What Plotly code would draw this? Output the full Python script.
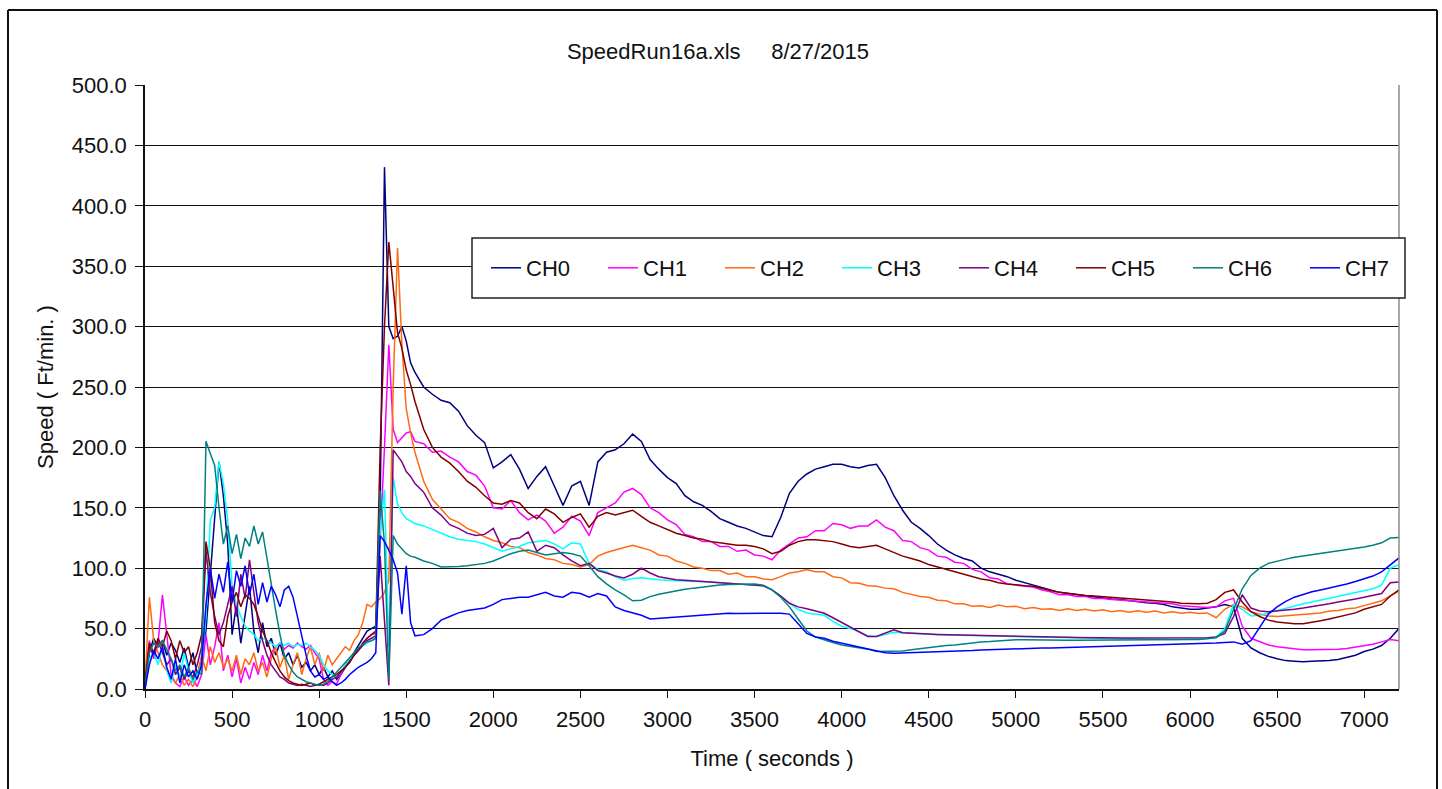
import plotly.graph_objects as go

# sample times (s): 25 s spacing through the start-up burst, 50 s after
time_s = list(range(0, 1550, 25)) + list(range(1550, 7201, 50))

channel_names = ["CH0", "CH1", "CH2", "CH3", "CH4", "CH5", "CH6", "CH7"]

ch0 = [0, 30, 42, 35, 40, 28, 38, 32, 22, 34,
       18, 30, 12, 25, 48, 95, 140, 188, 160, 120,
       45, 70, 38, 62, 85, 48, 30, 55, 35, 42,
       28, 38, 25, 30, 20, 28, 18, 22, 15, 20,
       12, 18, 10, 15, 8, 12, 18, 25, 30, 36,
       42, 48, 50, 52, 150, 432, 300, 290, 292, 300,
       288, 270,
       262, 250, 244, 239, 237, 230, 218, 210, 204, 183,
       188, 194, 182, 166, 176, 184, 168, 152, 168, 172,
       152, 188, 196, 198, 203, 211, 205, 190, 182, 175,
       170, 160, 155, 152, 147, 141, 138, 135, 133, 130,
       127, 126, 142, 162, 172, 178, 182, 184, 186, 186,
       184, 183, 185, 186, 175, 160, 148, 138, 133, 127,
       120, 115, 111, 108, 106, 100, 97, 95, 93, 90,
       88, 86, 84, 82, 80, 79, 78, 77, 76, 75,
       74.5, 74, 73, 72, 71.5, 71, 70, 68, 67, 66,
       66, 67, 68, 70, 68, 42, 34, 30, 27, 25,
       23.5, 23, 22.5, 23, 23, 23.5, 24.5, 26, 28, 31,
       33, 36, 42, 50]

ch1 = [10, 40, 25, 38, 78, 45, 12, 5, 2, 10,
       3, 8, 2, 12, 45, 20, 35, 55, 15, 28,
       10, 25, 5, 18, 8, 22, 12, 28, 15, 30,
       35, 38, 33, 36, 34, 38, 35, 33, 36, 30,
       25, 8, 3, 6, 4, 12, 20, 25, 28, 32,
       38, 42, 45, 46, 120, 200, 285, 215, 204, 208,
       212, 213,
       205, 203, 196, 197, 192, 188, 180, 177, 168, 150,
       149, 156, 146, 140, 144, 139, 129, 134, 143, 139,
       127, 146, 150, 154, 163, 166, 161, 150, 146, 140,
       136, 128, 126, 122, 122, 118, 118, 114, 115, 111,
       110, 107, 115, 120, 125, 126, 131, 131, 137, 136,
       133, 135, 135, 140, 134, 131, 123, 122, 117, 115,
       110, 109, 105, 104, 99, 97, 92, 91, 87, 86,
       85, 84.5, 82, 80.5, 78, 78, 76.5, 76.5, 75, 75,
       74, 73.5, 72.5, 72.5, 71.5, 71.5, 70.5, 70.5, 69, 68.5,
       68, 67.5, 68, 73, 75, 52, 42, 39, 36.5, 35,
       34, 33, 32.5, 32.5, 32.5, 32.5, 33, 33.5, 34.5, 35.5,
       37, 39, 41, 40]

ch2 = [5, 76, 40, 30, 20, 15, 10, 5, 12, 3,
       8, 2, 10, 28, 15, 35, 22, 30, 18, 25,
       15, 28, 12, 25, 20, 30, 15, 22, 10, 25,
       35, 18, 28, 8, 20, 30, 12, 25, 35, 20,
       30, 15, 28, 20, 25, 30, 35, 32, 40, 45,
       55, 70, 68, 72, 75, 80, 90, 250, 365, 285,
       232, 212,
       196, 172, 157, 149, 141, 138, 133, 130, 126, 123,
       121, 118, 117, 113, 111, 108, 107, 104, 103, 101,
       103, 110, 113, 115, 117, 119, 117, 115, 111, 110,
       106, 104, 101, 100, 98, 98, 95, 96, 93, 93,
       91, 90.5, 93, 96, 97, 99, 97, 97, 93, 92,
       88, 87.5, 85.5, 85, 83.5, 83, 80, 78.5, 76.5, 76,
       73.5, 73, 70.5, 70.5, 68.5, 69, 67.5, 69.5, 68, 68.5,
       66.5, 67.5, 66, 66.5, 65, 66.5, 65, 66, 64.5, 65.5,
       64, 65, 63.5, 64.8, 63.5, 64.5, 63, 64, 62.8, 63.5,
       62.5, 63, 59, 66, 70, 68, 64, 62, 60.5, 60,
       60.5, 61, 61.5, 62.5, 63, 64.5, 65, 66.5, 67, 69,
       71, 73, 77, 81]

ch3 = [2, 25, 30, 20, 35, 15, 5, 20, 10, 30,
       15, 5, 12, 20, 60, 140, 150, 188, 170, 140,
       85, 70, 60, 52, 48, 45, 40, 42, 40, 38,
       35, 38, 36, 38, 35, 37, 36, 38, 35, 32,
       28, 20, 15, 12, 10, 14, 20, 25, 28, 32,
       36, 38, 40, 42, 130, 165, 35, 175, 153, 146,
       141, 139,
       137, 135, 132, 129, 126, 124, 123, 122, 120, 117,
       114, 116, 118, 121, 122, 123, 120, 116, 121, 120,
       104, 99, 97, 93, 90, 91.5, 92, 91, 90.5, 90,
       89.5, 89, 89, 89, 88.5, 88, 87.5, 87, 86.5, 86,
       85.5, 82, 77, 71, 66, 63, 62, 61, 56, 52,
       50, 47.5, 44, 43.5, 45, 47, 46.5, 46, 45.5, 45,
       45, 44.8, 44.8, 44.5, 44.2, 44, 44, 44, 43.8, 43.5,
       43.2, 43, 43, 42.8, 42.5, 42.5, 42.3, 42.2, 42, 42,
       41.8, 41.6, 41.5, 41.4, 41.3, 41.2, 41.1, 41, 41, 41,
       41, 41.5, 43, 50, 70, 66, 60.5, 61, 63, 65,
       67, 69, 70.5, 72, 73.5, 75, 76.5, 78, 79.5, 81,
       83, 86, 100, 103]

ch4 = [5, 35, 28, 40, 30, 20, 25, 12, 18, 8,
       15, 10, 20, 35, 115, 80, 60, 45, 55, 70,
       85, 60, 95, 75, 107, 80, 55, 40, 28, 20,
       15, 10, 8, 5, 4, 3, 4, 3, 2, 3,
       4, 3, 5, 8, 10, 14, 18, 22, 28, 32,
       36, 40, 42, 44, 110, 60, 3, 198, 193, 188,
       180, 176,
       170, 163, 150, 144, 136, 133, 129, 127, 128, 133,
       117, 124, 125, 130, 114, 119, 117, 111, 106, 102,
       104, 98, 96, 93.5, 92, 95, 100, 96, 93, 91.5,
       90.5, 90, 89.5, 89, 89, 88.5, 88, 87.5, 87, 86.2,
       85.5, 82, 77, 71, 68, 66.5, 64.5, 62.7, 59, 55,
       51, 47, 43.5, 43.4, 46, 49, 46.5, 46, 45.7, 45.5,
       45.2, 45, 44.8, 44.6, 44.4, 44.2, 44, 44.2, 44, 43.8,
       43.5, 43.3, 43.2, 43, 43, 42.8, 42.7, 42.5, 42.4, 42.3,
       42.3, 42.2, 42.2, 42.2, 42.2, 42.2, 42.2, 42.2, 42.2, 42.2,
       42.2, 42.5, 43, 46, 60, 78, 67, 64.5, 64, 64.5,
       65, 66, 67, 68, 69, 70.5, 72, 73, 74.5, 76,
       77.5, 79, 88, 88.5]

ch5 = [5, 38, 30, 42, 35, 48, 40, 25, 40, 30,
       35, 20, 30, 45, 122, 100, 55, 40, 35, 60,
       72, 80, 68, 78, 75, 70, 60, 48, 40, 30,
       22, 15, 10, 7, 5, 4, 3, 4, 5, 3,
       4, 6, 8, 10, 12, 15, 18, 22, 28, 32,
       38, 42, 45, 48, 198, 300, 370, 330, 295, 282,
       264, 252,
       238, 215, 200, 192, 187, 180, 172, 167, 160, 154,
       153, 156, 154, 146, 141, 149, 145, 138, 142, 145,
       134, 143, 146, 144, 146, 148, 143, 138, 135, 132,
       129, 127, 125, 124, 122, 121, 120, 119, 119, 118,
       116, 112, 114, 119, 122, 123.5, 123.5, 123, 122, 120,
       118, 117, 118, 119, 116, 113, 110, 108, 106, 103,
       101, 99, 97, 95, 93, 91, 90, 88, 87, 86,
       85.5, 85, 83, 81.5, 80, 79, 78, 77.5, 77, 76.5,
       76, 75, 74.5, 74, 73.5, 73, 72.5, 72, 71, 70.5,
       70.5, 71, 74, 80, 82, 72, 64, 60, 57, 55.5,
       54.5, 54, 54, 55, 56.5, 58, 59.5, 61, 63, 66,
       68, 70, 77, 82]

ch6 = [3, 30, 38, 35, 40, 32, 25, 15, 20, 10,
       18, 8, 15, 12, 205, 195, 185, 150, 120, 135,
       112, 128, 108, 125, 118, 135, 120, 130, 108, 85,
       65, 45, 28, 20, 14, 10, 8, 6, 5, 4,
       3, 4, 6, 10, 14, 18, 22, 26, 30, 34,
       37, 39, 40, 42, 164, 120, 8, 127, 120, 116,
       112, 110,
       109, 106, 104, 101, 101, 101.5, 102, 103, 104, 106,
       109, 112, 114, 115, 113, 111, 112, 113, 112, 110,
       102, 93, 87, 82, 78, 73, 73.5, 76.5, 78.5, 80,
       81.5, 82.5, 83.5, 84.5, 85.5, 86, 86.5, 86.8, 87, 87,
       86, 82, 76, 68, 58, 48, 43, 40.5, 38.5, 36.5,
       35.5, 34.5, 33, 31, 31, 31, 31.5, 32.5, 33.5, 34,
       35, 36, 36.5, 37.5, 38.5, 39, 39.3, 40, 40.5, 40.8,
       40.8, 40.6, 40.5, 40.4, 40.3, 40.3, 40.3, 40.3, 40.3, 40.4,
       40.4, 40.5, 40.6, 40.6, 40.7, 40.8, 40.8, 40.9, 40.9, 40.9,
       41, 41.5, 42.5, 48, 66, 83, 94, 100, 104, 106,
       107.5, 109, 110, 111.5, 112.5, 113.5, 114.5, 115.5, 116.5, 117.5,
       119, 121, 125, 125.5]

ch7 = [0, 20, 32, 25, 35, 18, 8, 25, 5, 20,
       10, 15, 8, 20, 70, 100, 75, 95, 80, 105,
       72, 98, 85, 102, 78, 95, 70, 88, 72, 85,
       78, 68, 82, 85, 76, 60, 42, 28, 15, 10,
       12, 8, 10, 6, 3, 5, 8, 12, 15, 18,
       20, 22, 25, 30, 127, 122, 115, 107, 96, 62,
       102, 55,
       44, 45, 50, 57, 60, 63, 65, 66, 67, 70,
       74, 75, 76, 76, 78, 80, 77, 76, 80, 79,
       76, 79, 77, 68, 65, 63, 61, 58, 58.5, 59.5,
       59.5, 60, 60.5, 61, 61.5, 62.5, 62.7, 62.5, 62.7, 62.7,
       62.5, 62.7, 62.7, 62, 54, 46, 43, 42, 39.5, 38,
       36.5, 35, 33, 31.5, 30, 29.6, 29.8, 30, 30, 30.2,
       30.5, 30.8, 31, 31.5, 31.8, 32.2, 32.5, 33, 33.2, 33.3,
       33.5, 33.7, 33.9, 34, 34.2, 34.5, 34.8, 35, 35.2, 35.4,
       35.6, 35.8, 36, 36.2, 36.3, 36.5, 36.6, 36.8, 37, 37,
       37.2, 37.5, 38, 38.5, 39, 37, 40, 51, 62, 68,
       72.5, 76, 78.5, 80.5, 82, 83.5, 85, 87, 89, 91.5,
       93.5, 97, 103, 108.5]

channel_values = [ch0, ch1, ch2, ch3, ch4, ch5, ch6, ch7]
channel_colors = ["#000080", "#FF00FF", "#FF6A13", "#00FFFF",
                  "#800080", "#800000", "#008080", "#0000FF"]

y_ticks = [0, 50, 100, 150, 200, 250, 300, 350, 400, 450, 500]
x_ticks = [0, 500, 1000, 1500, 2000, 2500, 3000, 3500, 4000, 4500,
           5000, 5500, 6000, 6500, 7000]

for vals in channel_values:
    assert len(vals) == len(time_s), len(vals)

FONT = "Liberation Sans, Arial, sans-serif"
INK = "#111111"

fig = go.Figure()
for name, vals, color in zip(channel_names, channel_values, channel_colors):
    fig.add_trace(go.Scatter(x=time_s, y=vals, mode="lines", name=name,
                             line=dict(color=color, width=1.5)))

# plot-area geometry in pixels (for paper-coordinate helpers)
L, R, T, B = 145, 1399, 85, 689
def px(x):
    return (x - L) / (R - L)
def py(y):
    return (B - y) / (B - T)

shapes = [
    # plot area border (right, grey)
    dict(type="line", xref="paper", yref="paper", x0=1, x1=1, y0=0, y1=1,
         line=dict(color="#8c8c8c", width=1.5), layer="above"),
    # legend box
    dict(type="rect", xref="paper", yref="paper",
         x0=px(472), x1=px(1405), y0=py(298), y1=py(238),
         fillcolor="white", line=dict(color="#222222", width=1.5), layer="above"),
    # outer chart frame
    dict(type="line", xref="paper", yref="paper", x0=px(8), x1=px(8),
         y0=py(800), y1=py(10), line=dict(color="#111111", width=2)),
    dict(type="line", xref="paper", yref="paper", x0=px(8), x1=px(1437),
         y0=py(10), y1=py(10), line=dict(color="#111111", width=2)),
    dict(type="line", xref="paper", yref="paper", x0=px(1437), x1=px(1437),
         y0=py(800), y1=py(10), line=dict(color="#111111", width=2)),
]

fig.update_layout(
    width=1442, height=789,
    margin=dict(l=L, r=1442 - R, t=T, b=789 - B, autoexpand=False),
    paper_bgcolor="white", plot_bgcolor="white",
    font=dict(family=FONT, size=22, color=INK),
    title=dict(text="SpeedRun16a.xls\u00a0\u00a0\u00a0\u00a0 8/27/2015",
               x=718 / 1442, xref="container", xanchor="center",
               y=1 - 51 / 789, yref="container", yanchor="middle",
               font=dict(family=FONT, size=22, color=INK)),
    showlegend=True,
    legend=dict(orientation="h", x=px(486), xanchor="left",
                y=py(268), yanchor="middle",
                bgcolor="rgba(0,0,0,0)", borderwidth=0,
                entrywidth=72, entrywidthmode="pixels",
                font=dict(family=FONT, size=22, color=INK)),
    shapes=shapes,
)

fig.update_xaxes(range=[0, 7200], tickvals=x_ticks, ticks="outside", ticklen=7,
                 tickcolor="#111111", tickwidth=1.3,
                 showline=True, linecolor="#111111", linewidth=1.5,
                 showgrid=False, zeroline=False, ticklabelstandoff=3,
                 title=dict(text="Time ( seconds )", standoff=19,
                            font=dict(family=FONT, size=22, color=INK)))
fig.update_yaxes(range=[0, 500], tickvals=y_ticks, tickformat=".1f",
                 ticks="outside", ticklen=8, tickcolor="#111111", tickwidth=1.3,
                 showline=True, linecolor="#111111", linewidth=1.5,
                 showgrid=True, gridcolor="#111111", gridwidth=1.2,
                 zeroline=False, ticklabelstandoff=4,
                 title=dict(text="Speed ( Ft/min. )", standoff=12,
                            font=dict(family=FONT, size=22, color=INK)))

fig.write_html("out.html",
               config={"displayModeBar": False},
               post_script="document.body.style.margin='0';"
                           "document.body.style.overflow='hidden';")
